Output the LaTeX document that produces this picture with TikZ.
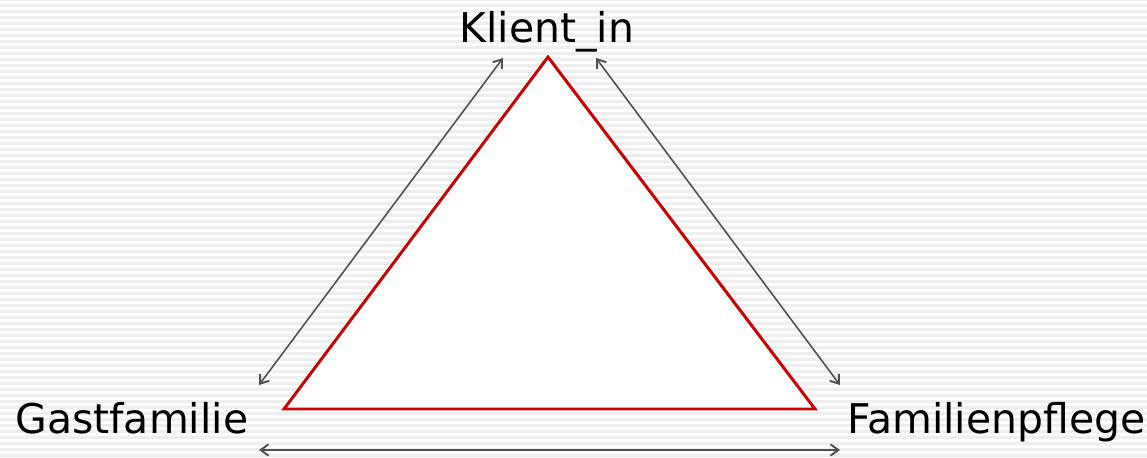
\documentclass[tikz,border=0pt]{standalone}
\usepackage{fontspec}
\setmainfont{DejaVu Sans}
\usetikzlibrary{arrows.meta, positioning}
\definecolor{rot1}{RGB}{204, 0, 0}
\definecolor{streifen1}{RGB}{238, 238, 238}
\definecolor{pfeil1}{RGB}{80, 80, 80}
\tikzset{
  beschriftung/.style={inner sep=0pt, font=\fontsize{23.3}{28}\selectfont},
  beziehung/.style={draw=pfeil1, line width=0.9pt, {Straight Barb[length=4.5pt,width=6.5pt,line width=1.1pt]}-{Straight Barb[length=4.5pt,width=6.5pt,line width=1.1pt]}}
}

\begin{document}
\begin{tikzpicture}[x=0.02cm, y=0.02cm]
  % Hintergrund mit Streifen
  \useasboundingbox (0,0) rectangle (1147,457);
  \fill[white] (0,0) rectangle (1147,457);
  \foreach \i in {0,...,76}
    \fill[streifen1] (0,\i*6) rectangle (1147,\i*6+3);

  % Dreieck
  \coordinate (spitze) at (548,400);
  \coordinate (linksunten) at (284,48);
  \coordinate (rechtsunten) at (815,48);
  \filldraw[draw=rot1, fill=white, line width=1.7pt, line join=miter]
    (spitze) -- (linksunten) -- (rechtsunten) -- cycle;

  % Beschriftungen
  \node[beschriftung, anchor=base] (klient) at (547,414) {Klient\_in};
  \node[beschriftung, anchor=base west] (gast) at (15,24) {Gastfamilie};
  \node[beschriftung, anchor=base west] (pflege) at (847,24) {Familienpflege};

  % Pfeile
  \coordinate (kl) at (503,399);
  \coordinate (kr) at (596,399);
  \coordinate (ga) at (259,72);
  \coordinate (pf) at (840,72);
  \coordinate (gu) at (259,7);
  \coordinate (pu) at (840,7);
  \draw[beziehung] (kl) -- (ga);
  \draw[beziehung] (kr) -- (pf);
  \draw[beziehung] (gu) -- (pu);
\end{tikzpicture}
\end{document}
